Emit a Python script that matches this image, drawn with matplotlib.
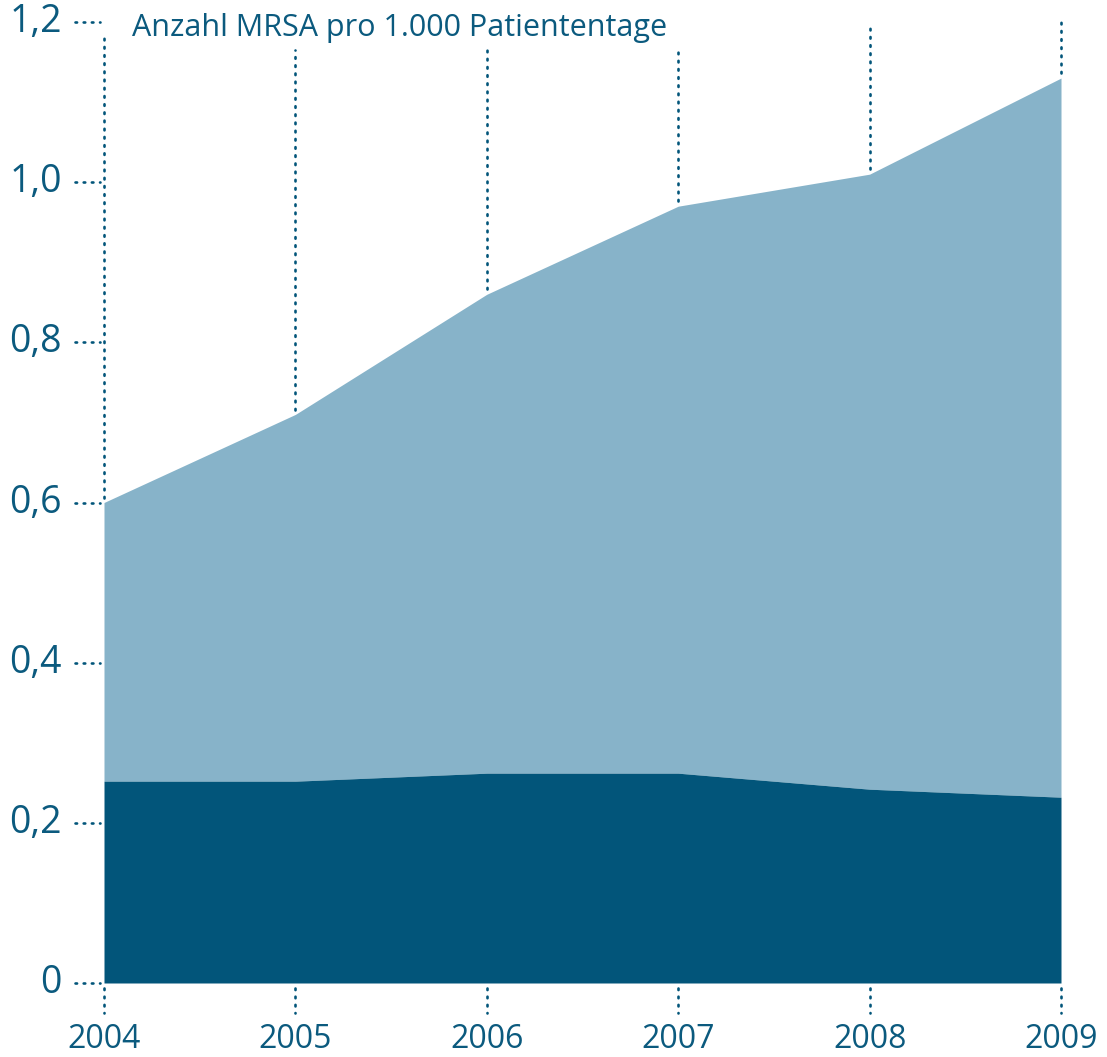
import matplotlib
matplotlib.use("Agg")
import matplotlib.pyplot as plt
import matplotlib.transforms as mtransforms

years = [2004, 2005, 2006, 2007, 2008, 2009]
total = [0.60, 0.71, 0.86, 0.97, 1.01, 1.13]
lower = [0.252, 0.252, 0.262, 0.262, 0.242, 0.232]
yticks = [0, 0.2, 0.4, 0.6, 0.8, 1.0, 1.2]
ytick_labels = ["0", "0,2", "0,4", "0,6", "0,8", "1,0", "1,2"]
title = "Anzahl MRSA pro 1.000 Patiententage"
# top end of vertical guide lines (value scale)
guide_top = [1.186, 1.165, 1.165, 1.165, 1.2, 1.2]

dark = "#02557a"
light = "#87b3c9"
txt = "#0b5a7e"
font = "Open Sans"

fig = plt.figure(figsize=(11.07, 10.57), dpi=100)
ax = fig.add_axes([104/1107, 74/1057, 957/1107, 961/1057])
ax.set_xlim(2004, 2009)
ax.set_ylim(0, 1.2)
ax.axis("off")

ax.fill_between(years, lower, total, color=light, lw=0)
ax.fill_between(years, 0, lower, color=dark, lw=0)

dot = dict(color=dark, lw=1.9, linestyle=(0, (0.6, 2.5)), dash_capstyle="round", clip_on=False)

# vertical guides
for x, t, gt in zip(years, total, guide_top):
    ax.plot([x, x], [t + 0.006, gt], **dot)
    ax.plot([x, x], [-0.006, -0.037], **dot)
    ax.text(x, -0.071, str(x), ha="center", va="center", fontsize=23,
            color=txt, family=font)

# y ticks
tr = mtransforms.blended_transform_factory(ax.transAxes, ax.transData)
for v, lab in zip(yticks, ytick_labels):
    ax.plot([-29/957, -4/957], [v, v], transform=tr, **dot)
    ax.text(-42/957, v, lab, transform=tr, ha="right", va="center",
            fontsize=27, color=txt, family=font)

ax.text(28/957, 1.192, title, transform=tr, ha="left", va="center",
        fontsize=22, color=txt, family=font)

fig.savefig("out.png", dpi=100)
